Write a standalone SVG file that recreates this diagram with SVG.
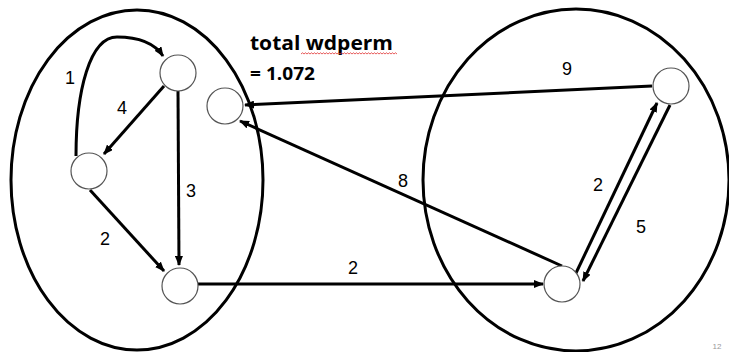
<svg xmlns="http://www.w3.org/2000/svg" width="729" height="352" viewBox="0 0 729 352">
<style>
.region{fill:none;stroke:#000;stroke-width:3}
.node{fill:#fff;stroke:#555;stroke-width:1.2}
.edge{fill:none;stroke:#000;stroke-width:3;marker-end:url(#arrow)}
.lbl{font-family:"Liberation Sans",Arial,sans-serif;font-size:18px;fill:#000;text-anchor:middle}
.title{font-family:"Open Sans","Liberation Sans",sans-serif;font-weight:bold;fill:#000}
</style>
<defs>
<marker id="arrow" viewBox="0 0 10 8" refX="9" refY="4" markerWidth="10" markerHeight="8" markerUnits="userSpaceOnUse" orient="auto">
<path d="M0,0 L10,4 L0,8 z" fill="#000"/>
</marker>
</defs>
<rect width="729" height="352" fill="#fff"/>
<g id="regions">
<ellipse class="region" cx="137" cy="180" rx="126" ry="170"/>
<ellipse class="region" cx="576" cy="180" rx="153" ry="171"/>
</g>
<g id="connectors">
<path class="edge" d="M76,156 C76,90 90,37 117,37 C140,37 155,44 163,56"/>
<path class="edge" d="M164,86 L104,154"/>
<path class="edge" d="M178,91 L179,265"/>
<path class="edge" d="M90,190 L164,271"/>
<path class="edge" d="M198,284 L543,284"/>
<path class="edge" d="M652,86 L245,105"/>
<path class="edge" d="M562,266 L240,121"/>
<path class="edge" d="M576,273 L657,103"/>
<path class="edge" d="M670,105 L583,281"/>
</g>
<g id="nA"><circle class="node" cx="178" cy="73" r="18"/></g>
<g id="nB"><circle class="node" cx="89" cy="171" r="18"/></g>
<g id="nC"><circle class="node" cx="180" cy="286" r="18"/></g>
<g id="nD"><circle class="node" cx="225" cy="106" r="18"/></g>
<g id="nE"><circle class="node" cx="671" cy="86" r="18"/></g>
<g id="nF"><circle class="node" cx="562" cy="284" r="18"/></g>
<g id="labels">
<text class="lbl" x="70" y="84">1</text>
<text class="lbl" x="122" y="114">4</text>
<text class="lbl" x="191" y="197">3</text>
<text class="lbl" x="105" y="245">2</text>
<text class="lbl" x="353" y="274">2</text>
<text class="lbl" x="567" y="75">9</text>
<text class="lbl" x="403" y="187">8</text>
<text class="lbl" x="598" y="191">2</text>
<text class="lbl" x="641" y="233">5</text>
</g>
<g id="title">
<text class="title" x="250" y="50" font-size="19" textLength="143" lengthAdjust="spacingAndGlyphs">total wdperm</text>
<path d="M301,54 l1.5,-1.2 l1.5,1.2 l1.5,-1.2 l1.5,1.2 l1.5,-1.2 l1.5,1.2 l1.5,-1.2 l1.5,1.2 l1.5,-1.2 l1.5,1.2 l1.5,-1.2 l1.5,1.2 l1.5,-1.2 l1.5,1.2 l1.5,-1.2 l1.5,1.2 l1.5,-1.2 l1.5,1.2 l1.5,-1.2 l1.5,1.2 l1.5,-1.2 l1.5,1.2 l1.5,-1.2 l1.5,1.2 l1.5,-1.2 l1.5,1.2 l1.5,-1.2 l1.5,1.2 l1.5,-1.2 l1.5,1.2 l1.5,-1.2 l1.5,1.2 l1.5,-1.2 l1.5,1.2 l1.5,-1.2 l1.5,1.2 l1.5,-1.2 l1.5,1.2 l1.5,-1.2 l1.5,1.2 l1.5,-1.2 l1.5,1.2 l1.5,-1.2 l1.5,1.2 l1.5,-1.2 l1.5,1.2 l1.5,-1.2 l1.5,1.2 l1.5,-1.2 l1.5,1.2 l1.5,-1.2 l1.5,1.2 l1.5,-1.2 l1.5,1.2 l1.5,-1.2 l1.5,1.2 l1.5,-1.2 l1.5,1.2 l1.5,-1.2 l1.5,1.2 l1.5,-1.2 l1.5,1.2 l1.5,-1.2 l1.5,1.2" fill="none" stroke="#e03030" stroke-width="0.8"/>
<text class="title" x="250" y="80" font-size="17" textLength="65" lengthAdjust="spacingAndGlyphs">= 1.072</text>
</g>
<text x="717" y="349" font-family="'Liberation Sans',Arial,sans-serif" font-size="8" fill="#999" text-anchor="middle">12</text>
</svg>
